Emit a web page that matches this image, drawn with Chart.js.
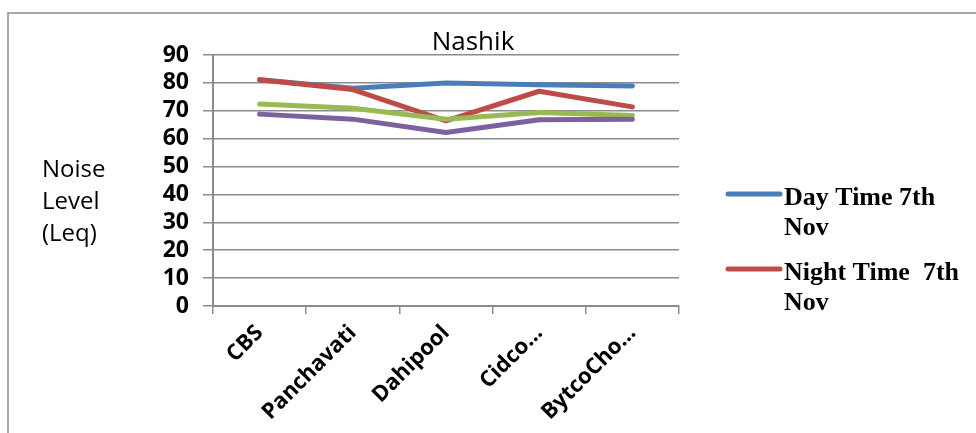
<!DOCTYPE html>
<html>
<head>
<meta charset="utf-8">
<script src="https://cdn.jsdelivr.net/npm/chart.js@4/dist/chart.umd.min.js"></script>
<style>
  html, body { margin: 0; padding: 0; background: #fff; }
  #wrap { width: 976px; height: 433px; }
</style>
</head>
<body>
<div id="wrap"><canvas id="chart" width="976" height="433"></canvas></div>
<script>
// ----- dados do gráfico -----
const locais = ['CBS', 'Panchavati', 'Dahipool', 'Cidco…', 'BytcoCho…'];
const diaNov7 = [81.1, 78.1, 80.0, 79.3, 78.9];
const noiteNov7 = [81.1, 77.6, 66.4, 77.0, 71.4];
const serie3 = [72.4, 70.9, 67.0, 69.4, 68.3];
const serie4 = [68.8, 67.0, 62.2, 66.8, 67.0];
const yTicks = [0, 10, 20, 30, 40, 50, 60, 70, 80, 90];

const nomes = ['Day Time 7th Nov', 'Night Time  7th Nov', 'Day Time 8th Nov', 'Night Time 8th Nov'];
const cores = ['#4A7EBB', '#BE4B48', '#98B954', '#7D60A0'];

const cinza = '#8c8c8c';

// moldura, título e legenda desenhados à mão (estilo Excel)
const extras = {
  id: 'extras',
  beforeDraw(chart) {
    const ctx = chart.ctx;
    ctx.save();
    ctx.fillStyle = '#fff';
    ctx.fillRect(0, 0, chart.width, chart.height);
    ctx.strokeStyle = cinza;
    ctx.lineWidth = 1.5;
    ctx.beginPath();
    ctx.moveTo(8, 433);
    ctx.lineTo(8, 13);
    ctx.lineTo(976, 13);
    ctx.stroke();
    ctx.restore();
  },
  afterDraw(chart) {
    const ctx = chart.ctx;
    ctx.save();
    ctx.fillStyle = '#000';
    ctx.textBaseline = 'alphabetic';

    ctx.font = '26px "Open Sans"';
    ctx.textAlign = 'center';
    ctx.fillText('Nashik', 473, 50);

    ctx.font = '24px "Open Sans"';
    ctx.textAlign = 'left';
    ['Noise', 'Level', '(Leq)'].forEach((t, i) => ctx.fillText(t, 42, 177 + i * 32));

    // legenda: só as duas primeiras séries aparecem
    const linhas = [['Day Time 7th', 'Nov'], ['Night Time  7th', 'Nov']];
    const yLinha = [194, 269];
    ctx.font = 'bold 26px "Liberation Serif"';
    linhas.forEach((txt, i) => {
      ctx.strokeStyle = cores[i];
      ctx.lineWidth = 5;
      ctx.lineCap = 'round';
      ctx.beginPath();
      ctx.moveTo(728, yLinha[i]);
      ctx.lineTo(780, yLinha[i]);
      ctx.stroke();
      ctx.fillText(txt[0], 784, yLinha[i] + 11);
      ctx.fillText(txt[1], 784, yLinha[i] + 41);
    });
    ctx.restore();
  }
};

const datasets = [diaNov7, noiteNov7, serie3, serie4].map((d, i) => ({
  label: nomes[i],
  data: d,
  borderColor: cores[i],
  backgroundColor: cores[i],
  borderWidth: 5,
  borderCapStyle: 'round',
  borderJoinStyle: 'round',
  pointRadius: 0,
  tension: 0,
  fill: false,
  order: 4 - i
}));

new Chart(document.getElementById('chart').getContext('2d'), {
  type: 'line',
  data: { labels: locais, datasets: datasets },
  options: {
    responsive: false,
    animation: false,
    layout: { padding: { left: 0, top: 55, right: 297, bottom: 0 } },
    plugins: {
      legend: { display: false },
      title: { display: false },
      tooltip: { enabled: false }
    },
    scales: {
      x: {
        offset: true,
        afterFit: s => { s.height = 127; },
        grid: { display: true, offset: true, drawOnChartArea: false, drawTicks: true, tickLength: 8, color: cinza, lineWidth: 1.5 },
        border: { color: cinza, width: 2 },
        ticks: {
          minRotation: 45,
          maxRotation: 45,
          autoSkip: false,
          color: '#000',
          padding: 6,
          font: { family: '"Open Sans"', size: 22, weight: 'bold' }
        }
      },
      y: {
        min: 0,
        max: 90,
        afterFit: s => { s.width = 213; },
        afterBuildTicks: s => { s.ticks = yTicks.map(v => ({ value: v })); },
        grid: { color: cinza, lineWidth: 1.5, tickLength: 10 },
        border: { color: cinza, width: 2 },
        ticks: {
          autoSkip: false,
          color: '#000',
          padding: 14,
          font: { family: '"Open Sans"', size: 23, weight: 'bold' }
        }
      }
    }
  },
  plugins: [extras]
});
</script>
</body>
</html>
